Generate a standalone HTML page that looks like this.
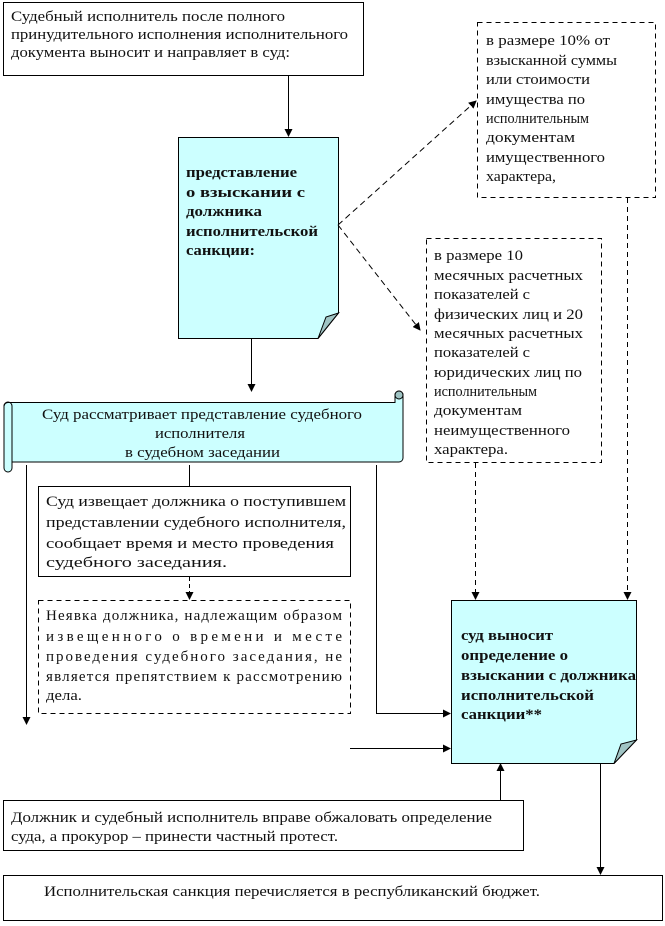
<!DOCTYPE html>
<html><head><meta charset="utf-8"><style>
html,body{margin:0;padding:0;background:#fff;}
svg{display:block;}
text{font-family:"Liberation Serif",serif;font-size:15px;fill:#111;}
.b{font-weight:bold;}
</style></head><body>
<svg width="665" height="926" viewBox="0 0 665 926">
<defs>
<marker id="a" markerWidth="8" markerHeight="8" refX="7" refY="4" orient="auto" markerUnits="userSpaceOnUse"><path d="M0,0 L8,4 L0,8 Z" fill="#000"/></marker>
</defs>
<g stroke="#000" stroke-width="1" fill="none">
<rect x="3.5" y="2.5" width="360" height="73" fill="#fff"/>
<line x1="288.5" y1="75" x2="288.5" y2="136" marker-end="url(#a)"/>
<path d="M178.5,137.5 H338.5 V313 L318,338.5 H178.5 Z" fill="#ccffff"/>
<path d="M338.5,313 L318,338.5 L326,317 Z" fill="#a0c4c4"/>
<rect x="477.5" y="22.5" width="178" height="175" stroke-dasharray="5,4" fill="#fff"/>
<rect x="426.5" y="238.5" width="175" height="224" stroke-dasharray="5,4" fill="#fff"/>
<line x1="338" y1="225" x2="476" y2="101" stroke-dasharray="6,4" marker-end="url(#a)"/>
<line x1="338" y1="225" x2="420" y2="330" stroke-dasharray="6,4" marker-end="url(#a)"/>
<line x1="251.5" y1="338" x2="251.5" y2="391" marker-end="url(#a)"/>
<path d="M8,402.5 H395 V395 a4,4 0 0 1 8,0 V458 a4,4 0 0 1 -4,4 H12 V468 a4,4 0 0 1 -8,0 V406 a4,4 0 0 1 4,-3.5 Z" fill="#ccffff"/>
<path d="M395,395 a4,4 0 0 1 8,0 a4,4 0 0 1 -8,0" fill="#a0c4c4"/>
<path d="M4,406 a4,4 0 0 1 8,0 V462" fill="none"/>
<line x1="26.5" y1="465" x2="26.5" y2="724" marker-end="url(#a)"/>
<line x1="189.5" y1="465" x2="189.5" y2="486"/>
<path d="M376.5,465 V713.5 H450" marker-end="url(#a)"/>
<rect x="38.5" y="486.5" width="312" height="90" fill="#fff"/>
<line x1="189.5" y1="577" x2="189.5" y2="599" stroke-dasharray="4,3" marker-end="url(#a)"/>
<rect x="38.5" y="600.5" width="312" height="113" stroke-dasharray="5,4" fill="#fff"/>
<path d="M451.5,600.5 H636.5 V740 L614,763.5 H451.5 Z" fill="#ccffff"/>
<path d="M636.5,740 L614,763.5 L621,744 Z" fill="#a0c4c4"/>
<line x1="475.5" y1="463" x2="475.5" y2="599" stroke-dasharray="5,4" marker-end="url(#a)"/>
<line x1="627.5" y1="198" x2="627.5" y2="599" stroke-dasharray="5,4" marker-end="url(#a)"/>
<line x1="350" y1="748.5" x2="450" y2="748.5" marker-end="url(#a)"/>
<rect x="3.5" y="800.5" width="520" height="50" fill="#fff"/>
<line x1="500.5" y1="800" x2="500.5" y2="764" marker-end="url(#a)"/>
<line x1="600.5" y1="763" x2="600.5" y2="874" marker-end="url(#a)"/>
<rect x="3.5" y="875.5" width="659" height="45" fill="#fff"/>
</g>
<g lengthAdjust="spacingAndGlyphs">
<text x="11" y="21" textLength="274" lengthAdjust="spacingAndGlyphs">Судебный исполнитель после полного</text>
<text x="11" y="39" textLength="337" lengthAdjust="spacingAndGlyphs">принудительного исполнения исполнительного</text>
<text x="11" y="57" textLength="279" lengthAdjust="spacingAndGlyphs">документа выносит и направляет в суд:</text>
<text class="b" x="186" y="177" textLength="111" lengthAdjust="spacingAndGlyphs">представление</text>
<text class="b" x="186" y="197" textLength="119" lengthAdjust="spacingAndGlyphs">о взыскании с</text>
<text class="b" x="186" y="216" textLength="76" lengthAdjust="spacingAndGlyphs">должника</text>
<text class="b" x="186" y="236" textLength="132" lengthAdjust="spacingAndGlyphs">исполнительской</text>
<text class="b" x="186" y="255" textLength="69" lengthAdjust="spacingAndGlyphs">санкции:</text>
<text x="486" y="45" textLength="124" lengthAdjust="spacingAndGlyphs">в размере 10% от</text>
<text x="486" y="65" textLength="131" lengthAdjust="spacingAndGlyphs">взысканной суммы</text>
<text x="486" y="84" textLength="104" lengthAdjust="spacingAndGlyphs">или стоимости</text>
<text x="486" y="104" textLength="99" lengthAdjust="spacingAndGlyphs">имущества по</text>
<text x="486" y="123" textLength="103" lengthAdjust="spacingAndGlyphs">исполнительным</text>
<text x="486" y="142" textLength="89" lengthAdjust="spacingAndGlyphs">документам</text>
<text x="486" y="162" textLength="119" lengthAdjust="spacingAndGlyphs">имущественного</text>
<text x="486" y="181" textLength="70" lengthAdjust="spacingAndGlyphs">характера,</text>
<text x="434" y="260" textLength="89" lengthAdjust="spacingAndGlyphs">в размере 10</text>
<text x="434" y="280" textLength="149" lengthAdjust="spacingAndGlyphs">месячных расчетных</text>
<text x="434" y="299" textLength="96" lengthAdjust="spacingAndGlyphs">показателей с</text>
<text x="434" y="319" textLength="149" lengthAdjust="spacingAndGlyphs">физических лиц и 20</text>
<text x="434" y="338" textLength="149" lengthAdjust="spacingAndGlyphs">месячных расчетных</text>
<text x="434" y="357" textLength="96" lengthAdjust="spacingAndGlyphs">показателей с</text>
<text x="434" y="377" textLength="148" lengthAdjust="spacingAndGlyphs">юридических лиц по</text>
<text x="434" y="396" textLength="103" lengthAdjust="spacingAndGlyphs">исполнительным</text>
<text x="434" y="415" textLength="88" lengthAdjust="spacingAndGlyphs">документам</text>
<text x="434" y="435" textLength="136" lengthAdjust="spacingAndGlyphs">неимущественного</text>
<text x="434" y="454" textLength="74" lengthAdjust="spacingAndGlyphs">характера.</text>
<text x="42" y="419" textLength="320" lengthAdjust="spacingAndGlyphs">Суд рассматривает представление судебного</text>
<text x="155" y="438" textLength="90" lengthAdjust="spacingAndGlyphs">исполнителя</text>
<text x="125" y="457" textLength="155" lengthAdjust="spacingAndGlyphs">в судебном заседании</text>
<text x="46" y="506" textLength="300" lengthAdjust="spacingAndGlyphs">Суд извещает должника о поступившем</text>
<text x="46" y="527" textLength="300" lengthAdjust="spacingAndGlyphs">представлении судебного исполнителя,</text>
<text x="46" y="548" textLength="288" lengthAdjust="spacingAndGlyphs">сообщает время и место проведения</text>
<text x="46" y="567" textLength="181" lengthAdjust="spacingAndGlyphs">судебного заседания.</text>
<text x="46" y="620" textLength="296">Неявка должника, надлежащим образом</text>
<text x="46" y="641" textLength="296">извещенного о времени и месте</text>
<text x="46" y="661" textLength="296">проведения судебного заседания, не</text>
<text x="46" y="681" textLength="296">является препятствием к рассмотрению</text>
<text x="46" y="700" textLength="36" lengthAdjust="spacingAndGlyphs">дела.</text>
<text class="b" x="461" y="640" textLength="92" lengthAdjust="spacingAndGlyphs">суд выносит</text>
<text class="b" x="461" y="660" textLength="107" lengthAdjust="spacingAndGlyphs">определение о</text>
<text class="b" x="461" y="680" textLength="175" lengthAdjust="spacingAndGlyphs">взыскании с должника</text>
<text class="b" x="461" y="700" textLength="133" lengthAdjust="spacingAndGlyphs">исполнительской</text>
<text class="b" x="461" y="719" textLength="81" lengthAdjust="spacingAndGlyphs">санкции**</text>
<text x="11" y="822" textLength="481" lengthAdjust="spacingAndGlyphs">Должник и судебный исполнитель вправе обжаловать определение</text>
<text x="11" y="841" textLength="327" lengthAdjust="spacingAndGlyphs">суда, а прокурор – принести частный протест.</text>
<text x="44" y="896" textLength="496" lengthAdjust="spacingAndGlyphs">Исполнительская санкция перечисляется в республиканский бюджет.</text>
</g>
</svg>
</body></html>
